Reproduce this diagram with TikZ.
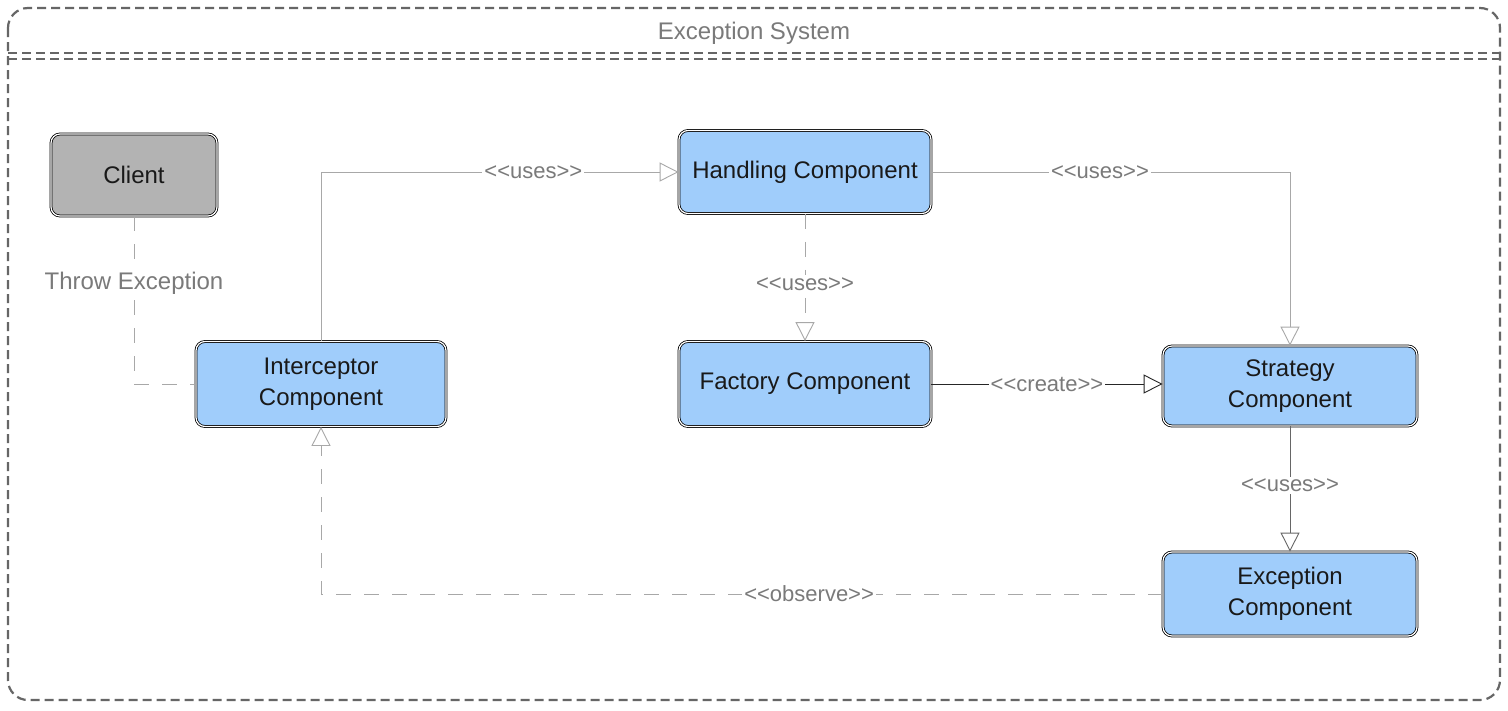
\documentclass[tikz,border=0pt]{standalone}
\usepackage{fontspec}
\setmainfont{Liberation Sans}
\usetikzlibrary{arrows.meta,positioning}
\definecolor{boxblue}{HTML}{A0CDFB}
\definecolor{clientgray}{HTML}{B3B3B3}
\definecolor{framegray}{HTML}{666666}
\definecolor{linegray}{HTML}{A8A8A8}
\definecolor{labelgray}{HTML}{7A7A7A}
\tikzset{
  comp/.style={draw=black, line width=0.8pt, double=white, double distance=1.2pt,
    rounded corners=9pt, fill=boxblue, align=center, inner sep=0pt,
    font=\fontsize{24}{31}\selectfont, text=black!90},
  clientbox/.style={comp, fill=clientgray},
  conn/.style={draw=linegray, line width=0.9pt,
    -{Triangle[open, length=19pt, width=19pt, line width=0.9pt]}},
  darkconn/.style={conn, draw=black!85},
  midconn/.style={conn, draw=black!60},
  dashconn/.style={conn, dash pattern=on 15pt off 13pt},
  plainconn/.style={draw=linegray, line width=0.9pt, dash pattern=on 15pt off 13pt},
  lbl/.style={fill=white, text=labelgray, inner sep=2pt,
    font=\fontsize{22}{26}\selectfont},
  frame/.style={draw=framegray, line width=2.2pt, dash pattern=on 9pt off 5pt},
}
\begin{document}
\begin{tikzpicture}[x=1pt, y=-1pt]
\useasboundingbox (0,0) rectangle (1508,710);
\fill[white] (0,0) rectangle (1508,710);

% container
\draw[frame, rounded corners=20pt] (8,8) rectangle (1500,700);
\draw[frame, line width=1.8pt] (8,53) -- (1500,53);
\draw[frame, line width=1.8pt] (8,59) -- (1500,59);
\node[text=labelgray, font=\fontsize{24}{28}\selectfont] (title) at (754,33) {Exception System};

% components
\node[clientbox, minimum width=166pt, minimum height=82pt] (client) at (134,175) {Client};
\node[comp, minimum width=250pt, minimum height=85pt] (interceptor) at (321,384) {Interceptor\\Component};
\node[comp, minimum width=252pt, minimum height=83pt] (handling) at (805,172) {Handling Component};
\node[comp, minimum width=252pt, minimum height=85pt] (factory) at (805,384) {Factory Component};
\node[comp, minimum width=254pt, minimum height=80pt] (strategy) at (1290,386) {Strategy\\Component};
\node[comp, minimum width=254pt, minimum height=84pt] (exception) at (1290,594) {Exception\\Component};

% connectors
\draw[plainconn] (client.south) |- (interceptor.west)
  node[lbl, pos=0.2, font=\fontsize{24}{28}\selectfont] (lthrow) {Throw Exception};
\draw[conn] (interceptor.north) |- (handling.west)
  node[lbl, pos=0.797] (luses1) {<{}<uses>{}>};
\draw[dashconn] (handling.south) -- (factory.north)
  node[lbl, pos=0.55] (luses2) {<{}<uses>{}>};
\draw[conn] (handling.east) -| (strategy.north)
  node[lbl, pos=0.235] (luses3) {<{}<uses>{}>};
\draw[darkconn] (factory.east) -- (factory.east -| strategy.west)
  node[lbl, pos=0.5] (lcreate) {<{}<create>{}>};
\draw[midconn] (strategy.south) -- (exception.north)
  node[lbl, pos=0.47] (luses4) {<{}<uses>{}>};
\draw[dashconn] (exception.west) -| (interceptor.south)
  node[lbl, pos=0.21] (lobserve) {<{}<observe>{}>};
\end{tikzpicture}
\end{document}
